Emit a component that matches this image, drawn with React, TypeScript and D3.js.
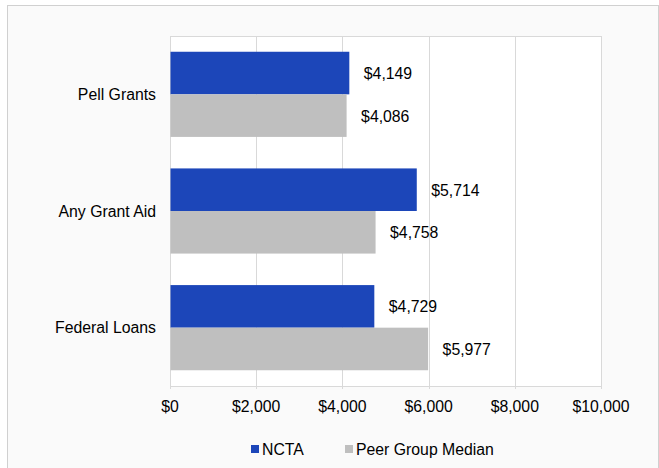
import React, { useEffect, useRef } from 'react';
import { select, scaleBand, scaleLinear, format } from 'd3';

const categories = ['Pell Grants', 'Any Grant Aid', 'Federal Loans'];
const seriesNames = ['NCTA', 'Peer Group Median'];
const nctaValues = [4149, 5714, 4729];
const peerValues = [4086, 4758, 5977];
const xTicks = [0, 2000, 4000, 6000, 8000, 10000];

const colors = ['#1c46b9', '#bfbfbf'];
const FONT = '"Liberation Sans", Arial, sans-serif';
const FS = 15.8;

const App: React.FC = () => {
  const svgRef = useRef<SVGSVGElement>(null);

  useEffect(() => {
    if (!svgRef.current) return;
    const width = 659;
    const height = 468;
    const plot = { left: 170, right: 601, top: 36, bottom: 386 };

    const svg = select(svgRef.current).attr('width', width).attr('height', height).html('');

    // background and outer frame
    svg.append('rect')
      .attr('x', 7.5).attr('y', 5.5)
      .attr('width', 651).attr('height', 470)
      .attr('fill', '#fafafa')
      .attr('stroke', '#d0d0d0');

    const x = scaleLinear().domain([0, 10000]).range([plot.left, plot.right]);
    const y0 = scaleBand<string>().domain(categories).range([plot.top, plot.bottom]).padding(0);
    const y1 = scaleBand<string>().domain(seriesNames).range([0, y0.bandwidth()])
      .paddingInner(0).paddingOuter(0.37);

    // plot area
    svg.append('rect')
      .attr('x', plot.left).attr('y', plot.top)
      .attr('width', plot.right - plot.left).attr('height', plot.bottom - plot.top)
      .attr('fill', '#ffffff');

    // gridlines
    svg.append('g').selectAll('line')
      .data(xTicks)
      .enter()
      .append('line')
      .attr('x1', d => Math.round(x(d)) + 0.5).attr('x2', d => Math.round(x(d)) + 0.5)
      .attr('y1', plot.top).attr('y2', plot.bottom + 3)
      .attr('stroke', '#d9d9d9');

    // top border + axis line
    svg.append('line')
      .attr('x1', plot.left).attr('x2', plot.right + 1)
      .attr('y1', plot.top + 0.5).attr('y2', plot.top + 0.5)
      .attr('stroke', '#d9d9d9');
    svg.append('line')
      .attr('x1', plot.left).attr('x2', plot.right + 1)
      .attr('y1', plot.bottom + 0.5).attr('y2', plot.bottom + 0.5)
      .attr('stroke', '#d9d9d9');

    const data = categories.map((c, i) => ({ cat: c, vals: [nctaValues[i], peerValues[i]] }));
    const money = (v: number) => '$' + format(',')(v);

    const groups = svg.append('g').selectAll('g')
      .data(data)
      .enter()
      .append('g')
      .attr('transform', d => `translate(0, ${y0(d.cat)})`);

    groups.selectAll('rect')
      .data(d => d.vals.map((v, i) => ({ s: seriesNames[i], v, i })))
      .enter()
      .append('rect')
      .attr('x', x(0) + 0.5)
      .attr('y', d => y1(d.s)!)
      .attr('width', d => x(d.v) - x(0))
      .attr('height', y1.bandwidth())
      .attr('fill', d => colors[d.i]);

    groups.selectAll('text.val')
      .data(d => d.vals.map((v, i) => ({ s: seriesNames[i], v, i })))
      .enter()
      .append('text')
      .attr('class', 'val')
      .attr('x', d => x(d.v) + 15)
      .attr('y', d => y1(d.s)! + y1.bandwidth() / 2 + 0.5)
      .attr('dy', '0.35em')
      .attr('font-family', FONT)
      .attr('font-size', FS)
      .attr('fill', '#000')
      .text(d => money(d.v));

    // category labels
    svg.append('g').selectAll('text')
      .data(categories)
      .enter()
      .append('text')
      .attr('x', plot.left - 14)
      .attr('y', d => y0(d)! + y0.bandwidth() / 2)
      .attr('dy', '0.35em')
      .attr('text-anchor', 'end')
      .attr('font-family', FONT)
      .attr('font-size', FS)
      .attr('fill', '#000')
      .text(d => d);

    // x tick labels
    svg.append('g').selectAll('text')
      .data(xTicks)
      .enter()
      .append('text')
      .attr('x', d => x(d))
      .attr('y', 406)
      .attr('dy', '0.35em')
      .attr('text-anchor', 'middle')
      .attr('font-family', FONT)
      .attr('font-size', FS)
      .attr('fill', '#000')
      .text(d => money(d));

    // legend
    const legendX = [251, 345];
    const legend = svg.append('g').selectAll('g')
      .data(seriesNames)
      .enter()
      .append('g')
      .attr('transform', (d, i) => `translate(${legendX[i]}, 449)`);
    legend.append('rect')
      .attr('x', 0).attr('y', -4)
      .attr('width', 8).attr('height', 8)
      .attr('fill', (d, i) => colors[i]);
    legend.append('text')
      .attr('x', 11)
      .attr('y', 0)
      .attr('dy', '0.35em')
      .attr('font-family', FONT)
      .attr('font-size', FS)
      .attr('fill', '#000')
      .text(d => d);
  }, []);

  return (
    <div style={{ position: 'absolute', left: 0, top: 0 }}>
      <svg ref={svgRef}></svg>
    </div>
  );
};

export default App;
